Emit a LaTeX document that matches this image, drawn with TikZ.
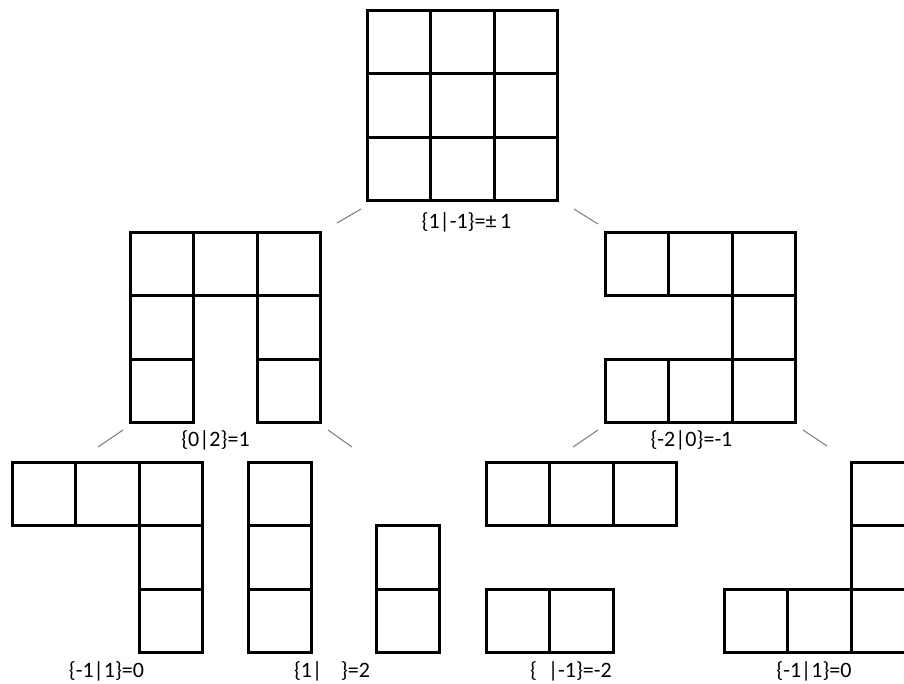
\documentclass[tikz,border=0pt]{standalone}
\usepackage{fontspec}
\setmainfont{Carlito}
\usetikzlibrary{positioning}

\newcommand\cellsize{63.5}
\newcommand\board[2]{\foreach \i/\j in {#2}
  \draw[cell, shift={(#1)}] (\i*\cellsize,\j*\cellsize) rectangle ++(\cellsize,\cellsize);}

\begin{document}
\begin{tikzpicture}[
  x=0.75pt, y=-0.75pt,
  cell/.style={draw, line width=2.25pt, line join=miter},
  val/.style={font=\fontsize{16.5}{19}\selectfont, anchor=base, inner sep=0pt},
  edge/.style={draw=gray, line width=0.8pt}]
\useasboundingbox (0,0) rectangle (904,683);
\clip (0,0) rectangle (904,683);
% board corners (top left)
\coordinate (root) at (367,10);
\coordinate (L) at (130,232);
\coordinate (R) at (605,232);
\coordinate (LL) at (12,462);
\coordinate (LR1) at (248,462);
\coordinate (LR2) at (376,462);
\coordinate (RL) at (486,462);
\coordinate (RR) at (724,462);
\board{root}{0/0,1/0,2/0,0/1,1/1,2/1,0/2,1/2,2/2}
\board{L}{0/0,1/0,2/0,0/1,2/1,0/2,2/2}
\board{R}{0/0,1/0,2/0,2/1,0/2,1/2,2/2}
\board{LL}{0/0,1/0,2/0,2/1,2/2}
\board{LR1}{0/0,0/1,0/2}
\board{LR2}{0/1,0/2}
\board{RL}{0/0,1/0,2/0,0/2,1/2}
\board{RR}{2/0,2/1,0/2,1/2,2/2}
% values
\node[val] (v-root) at (466.5,228) {\{1|-1\}=±\,1};
\node[val] (v-L) at (215.5,446) {\{0|2\}=1};
\node[val] (v-R) at (691.5,446) {\{-2|0\}=-1};
\node[val] (v-LL) at (106.5,677) {\{-1|1\}=0};
\node[val] (v-LR) at (332,677) {\{1|\hspace*{0.85em}\}=2};
\node[val] (v-RL) at (571,677) {\{\hspace*{0.5em}|-1\}=-2};
\node[val] (v-RR) at (814,677) {\{-1|1\}=0};
% move strokes
\coordinate (a1) at (337,223); \coordinate (a2) at (361,209);
\coordinate (b1) at (574,209); \coordinate (b2) at (598,224);
\coordinate (c1) at (98,447);  \coordinate (c2) at (123,430);
\coordinate (d1) at (328,430); \coordinate (d2) at (352,447);
\coordinate (e1) at (573,447); \coordinate (e2) at (598,430);
\coordinate (f1) at (803,430); \coordinate (f2) at (827,446);
\draw[edge] (a1) -- (a2);
\draw[edge] (b1) -- (b2);
\draw[edge] (c1) -- (c2);
\draw[edge] (d1) -- (d2);
\draw[edge] (e1) -- (e2);
\draw[edge] (f1) -- (f2);
\end{tikzpicture}
\end{document}
